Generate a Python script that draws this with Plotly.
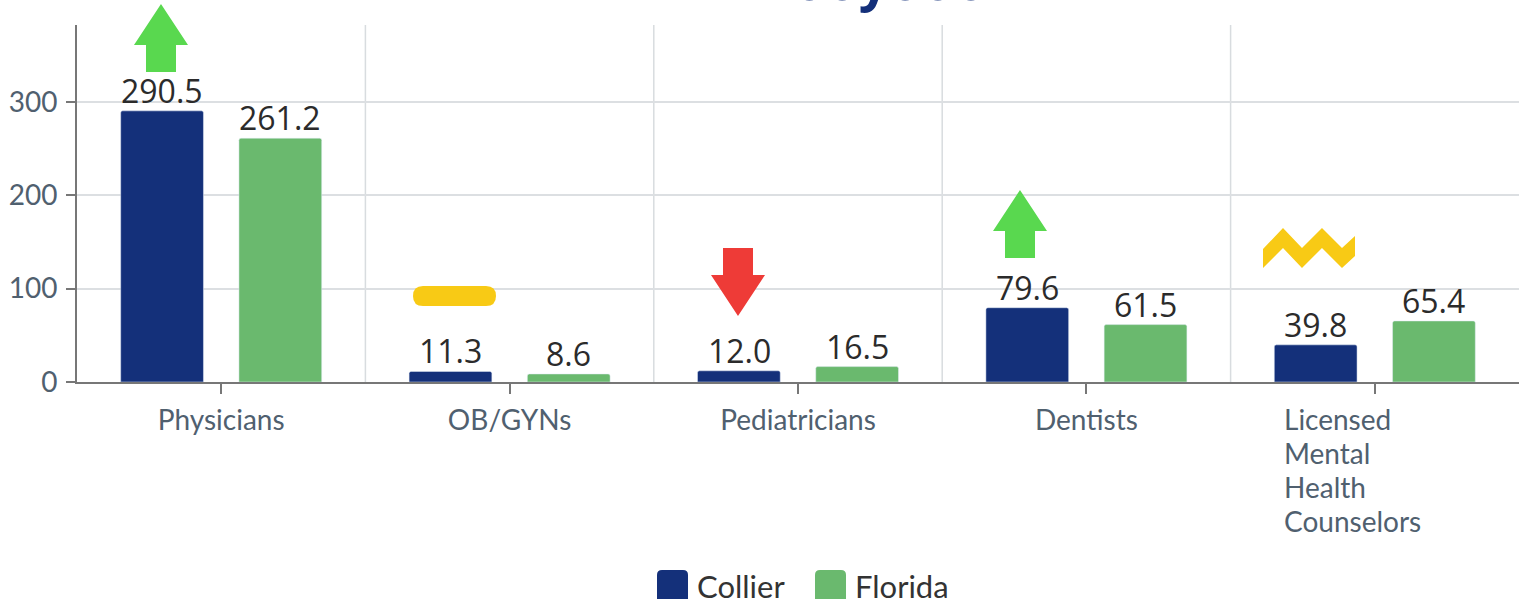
import plotly.graph_objects as go

W, H = 1527, 599
L, R, T, B = 77, 1519, 25, 382

categories = ["Physicians", "OB/GYNs", "Pediatricians", "Dentists", "Licensed Mental Health Counselors"]
tick_labels = ["Physicians", "OB/GYNs", "Pediatricians", "Dentists", ""]
last_label_lines = ["Licensed", "Mental", "Health", "Counselors"]
collier = [290.5, 11.3, 12.0, 79.6, 39.8]
florida = [261.2, 8.6, 16.5, 61.5, 65.4]
y_ticks = [0, 100, 200, 300]
title_fragment = "ooyooo"

NAVY, GREEN = "#14307a", "#6ab96e"
LIME, RED, YELLOW = "#59d84f", "#ee3b37", "#f8ca15"
TICK_COLOR = "#50606f"

def px(x):
    return (x - L) / (R - L)

def py(y):
    return (B - y) / (B - T)

def path(points):
    return "M" + " L".join(f"{px(x):.5f},{py(y):.5f}" for x, y in points) + " Z"

def arrow_up(cx, top):
    return [(cx, top), (cx + 27, top + 41), (cx + 15, top + 41), (cx + 15, top + 68),
            (cx - 15, top + 68), (cx - 15, top + 41), (cx - 27, top + 41)]

def arrow_down(cx, top):
    return [(cx - 15, top), (cx + 15, top), (cx + 15, top + 27), (cx + 27, top + 27),
            (cx, top + 68), (cx - 27, top + 27), (cx - 15, top + 27)]

def pill(x0, x1, y0, y1):
    r = (y1 - y0) / 2
    P = lambda x, y: f"{px(x):.5f},{py(y):.5f}"
    return (f"M{P(x0 + r, y0)} L{P(x1 - r, y0)} Q{P(x1, y0)} {P(x1, y0 + r)} Q{P(x1, y1)} {P(x1 - r, y1)} "
            f"L{P(x0 + r, y1)} Q{P(x0, y1)} {P(x0, y0 + r)} Q{P(x0, y0)} {P(x0 + r, y0)} Z")

def round_rect(x0, x1, y0, y1, r=5):
    P = lambda x, y: f"{px(x):.5f},{py(y):.5f}"
    return (f"M{P(x0 + r, y0)} L{P(x1 - r, y0)} Q{P(x1, y0)} {P(x1, y0 + r)} L{P(x1, y1)} "
            f"L{P(x0, y1)} L{P(x0, y0 + r)} Q{P(x0, y0)} {P(x0 + r, y0)} Z")

zigzag = [(1263, 249), (1283, 228), (1302, 248), (1322, 228), (1342, 248), (1355, 236),
          (1355, 256), (1342, 268), (1322, 248), (1302, 268), (1283, 248), (1263, 268)]

fig = go.Figure()
idx = list(range(len(categories)))
label_font = dict(family="Open Sans", size=32, color="#2b2b2b")
fig.add_bar(x=idx, y=collier, name="Collier", marker=dict(color=NAVY, cornerradius=2), showlegend=False)
fig.add_bar(x=idx, y=florida, name="Florida", marker=dict(color=GREEN, cornerradius=2), showlegend=False)

shapes = []
for i in idx[:-1]:
    shapes.append(dict(type="line", xref="x", yref="paper", x0=i + .5, x1=i + .5, y0=0, y1=1,
                       line=dict(color="#d8dcdf", width=1.5), layer="below"))
for pts, col in [(arrow_up(161, 4), LIME), (arrow_up(1020, 190), LIME),
                 (arrow_down(738, 248), RED), (zigzag, YELLOW)]:
    shapes.append(dict(type="path", xref="paper", yref="paper", path=path(pts),
                       fillcolor=col, line=dict(width=0), layer="above"))
shapes.append(dict(type="path", xref="paper", yref="paper", fillcolor=YELLOW, line=dict(width=0),
                   path=pill(413, 496, 286, 306), layer="above"))
for x0, col in [(657, NAVY), (815, GREEN)]:
    shapes.append(dict(type="path", xref="paper", yref="paper", path=round_rect(x0, x0 + 31, 570, 600),
                       fillcolor=col, line=dict(width=0)))

annotations = [
    dict(x=px(890), xref="paper", y=py(-21), yref="paper", xanchor="center", yanchor="middle",
         text=title_fragment, showarrow=False,
         font=dict(family="Open Sans", size=53, color=NAVY, weight="bold")),
    dict(x=px(695), xref="paper", y=py(586), yref="paper", xanchor="left", yanchor="middle",
         text="Collier", showarrow=False, font=dict(family="Lato", size=31, color="#333333")),
    dict(x=px(853), xref="paper", y=py(586), yref="paper", xanchor="left", yanchor="middle",
         text="Florida", showarrow=False, font=dict(family="Lato", size=31, color="#333333")),
]
for n, line in enumerate(last_label_lines):
    annotations.append(dict(x=px(1282), xref="paper", y=py(419 + 34 * n), yref="paper", xanchor="left",
                            yanchor="middle", text=line, showarrow=False,
                            font=dict(family="Lato", size=28, color=TICK_COLOR)))
for values, shift in [(collier, -59), (florida, 59)]:
    for i, v in zip(idx, values):
        annotations.append(dict(x=i, xref="x", xshift=shift, y=v, yref="y", yanchor="bottom", yshift=-3,
                                text=f"{v:.1f}", showarrow=False, font=label_font))

fig.update_layout(
    width=W, height=H, autosize=False,
    margin=dict(l=L, r=W - R, t=T, b=H - B),
    paper_bgcolor="white", plot_bgcolor="white",
    barmode="group", bargap=0.18, bargroupgap=0.3,
    shapes=shapes, annotations=annotations, showlegend=False,
    xaxis=dict(range=[-.5, 4.5], tickmode="array", tickvals=idx, ticktext=tick_labels,
               showgrid=False, zeroline=False, showline=True, linecolor="#777777", linewidth=2,
               ticks="outside", ticklen=10, tickwidth=1.5, tickcolor="#777777", ticklabelstandoff=2,
               tickfont=dict(family="Lato", size=28, color=TICK_COLOR)),
    yaxis=dict(range=[0, 382.5], tickmode="array", tickvals=y_ticks,
               showgrid=True, gridcolor="#dcdfe2", gridwidth=1.5, zeroline=False,
               showline=True, linecolor="#777777", linewidth=2,
               ticks="outside", ticklen=9, tickwidth=1.5, tickcolor="#777777", ticklabelstandoff=3,
               tickfont=dict(family="Lato", size=28, color=TICK_COLOR)),
)
fig.write_html("out.html", config=dict(displayModeBar=False),
               post_script="document.body.style.margin='0';document.documentElement.style.overflow='hidden';")
